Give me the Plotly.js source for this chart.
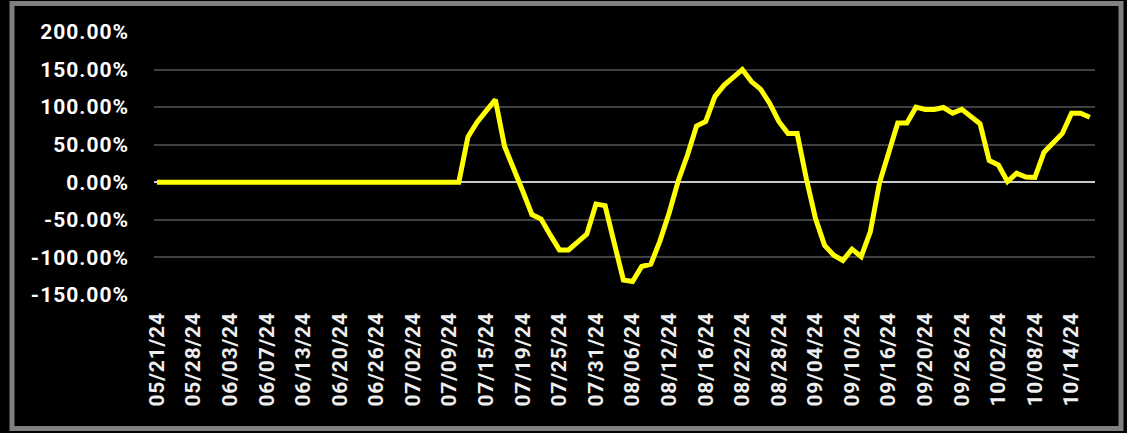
<!DOCTYPE html>
<html>
<head>
<meta charset="utf-8">
<script src="https://cdn.plot.ly/plotly-3.0.1.min.js"></script>
<style>
html,body{margin:0;padding:0;background:#000;}
#chart{width:1127px;height:433px;}
.ytick text{letter-spacing:1px;}
.xtick text{letter-spacing:0.8px;}
</style>
</head>
<body>
<div id="chart"></div>
<script>
// Trading days shown on the category axis
const dates = [
  "05/21/24","05/22/24","05/23/24","05/24/24","05/28/24","05/29/24","05/30/24","05/31/24",
  "06/03/24","06/04/24","06/05/24","06/06/24","06/07/24","06/10/24","06/11/24","06/12/24",
  "06/13/24","06/14/24","06/17/24","06/18/24","06/20/24","06/21/24","06/24/24","06/25/24",
  "06/26/24","06/27/24","06/28/24",
  "07/01/24","07/02/24","07/03/24","07/05/24","07/08/24","07/09/24","07/10/24","07/11/24",
  "07/12/24","07/15/24","07/16/24","07/17/24","07/18/24","07/19/24","07/22/24","07/23/24",
  "07/24/24","07/25/24","07/26/24","07/29/24","07/30/24","07/31/24",
  "08/01/24","08/02/24","08/05/24","08/06/24","08/07/24","08/08/24","08/09/24","08/12/24",
  "08/13/24","08/14/24","08/15/24","08/16/24","08/19/24","08/20/24","08/21/24","08/22/24",
  "08/23/24","08/26/24","08/27/24","08/28/24","08/29/24","08/30/24",
  "09/03/24","09/04/24","09/05/24","09/06/24","09/09/24","09/10/24","09/11/24","09/12/24",
  "09/13/24","09/16/24","09/17/24","09/18/24","09/19/24","09/20/24","09/23/24","09/24/24",
  "09/25/24","09/26/24","09/27/24","09/30/24",
  "10/01/24","10/02/24","10/03/24","10/04/24","10/07/24","10/08/24","10/09/24","10/10/24",
  "10/11/24","10/14/24","10/15/24","10/16/24"
];

// Series values in percent
const values = [
  0,0,0,0,0,0,0,0,
  0,0,0,0,0,0,0,0,
  0,0,0,0,0,0,0,0,
  0,0,0,
  0,0,0,0,0,0,0,60.5,
  80,95,110,48,20,-12,-43,-49,
  -70,-90,-90,-79,-69,-29,
  -31,-81,-130,-132,-112,-109,-78,-41,
  2,36,75,81,114,129,140,150,
  134,124,105,81,65,65,
  5,-48,-84,-97,-104,-89,-99,-66,
  -1,42,79,79,100,97,97,99.5,
  92,97,87,78,
  29,23,1,12,7,6.5,40,53,
  65,92,92,86.5
];

// Labelled ticks (every 4th trading day)
const tickLabels = [
  "05/21/24","05/28/24","06/03/24","06/07/24","06/13/24","06/20/24","06/26/24",
  "07/02/24","07/09/24","07/15/24","07/19/24","07/25/24","07/31/24","08/06/24",
  "08/12/24","08/16/24","08/22/24","08/28/24","09/04/24","09/10/24","09/16/24",
  "09/20/24","09/26/24","10/02/24","10/08/24","10/14/24"
];

const yTicks = [-150,-100,-50,0,50,100,150,200];
const yTickText = ["-150.00%","-100.00%","-50.00%","0.00%","50.00%","100.00%","150.00%","200.00%"];

const trace = {
  x: dates,
  y: values,
  type: 'scatter',
  mode: 'lines',
  line: {color: '#ffff00', width: 5, shape: 'linear'},
  hoverinfo: 'x+y'
};

const layout = {
  width: 1127,
  height: 433,
  paper_bgcolor: '#000000',
  plot_bgcolor: '#000000',
  margin: {l: 154, r: 32, t: 32, b: 138},
  showlegend: false,
  xaxis: {
    type: 'category',
    range: [-0.33, 102.57],
    tickmode: 'array',
    tickvals: tickLabels,
    ticktext: tickLabels,
    tickangle: -90,
    tickfont: {family: 'Roboto, Arial, sans-serif', size: 21, color: '#eeeeee', weight: 700},
    showgrid: false,
    zeroline: false,
    showline: false,
    ticks: '',
    ticklabelstandoff: 12
  },
  yaxis: {
    range: [-150, 200],
    tickmode: 'array',
    tickvals: yTicks,
    ticktext: yTickText,
    tickfont: {family: 'Roboto, Arial, sans-serif', size: 21, color: '#ffffff', weight: 700},
    showgrid: true,
    gridcolor: '#404040',
    gridwidth: 2,
    zeroline: true,
    zerolinecolor: '#c8c8c8',
    zerolinewidth: 2,
    showline: false,
    ticks: '',
    ticklabelstandoff: 24
  },
  shapes: [{
    type: 'rect', xref: 'paper', yref: 'paper',
    x0: -0.1509, x1: 1.0276, y0: -0.5076, y1: 1.1084,
    line: {color: '#808080', width: 5},
    fillcolor: 'rgba(0,0,0,0)',
    layer: 'below'
  }]
};

Plotly.newPlot('chart', [trace], layout, {displayModeBar: false, staticPlot: true});
</script>
</body>
</html>
